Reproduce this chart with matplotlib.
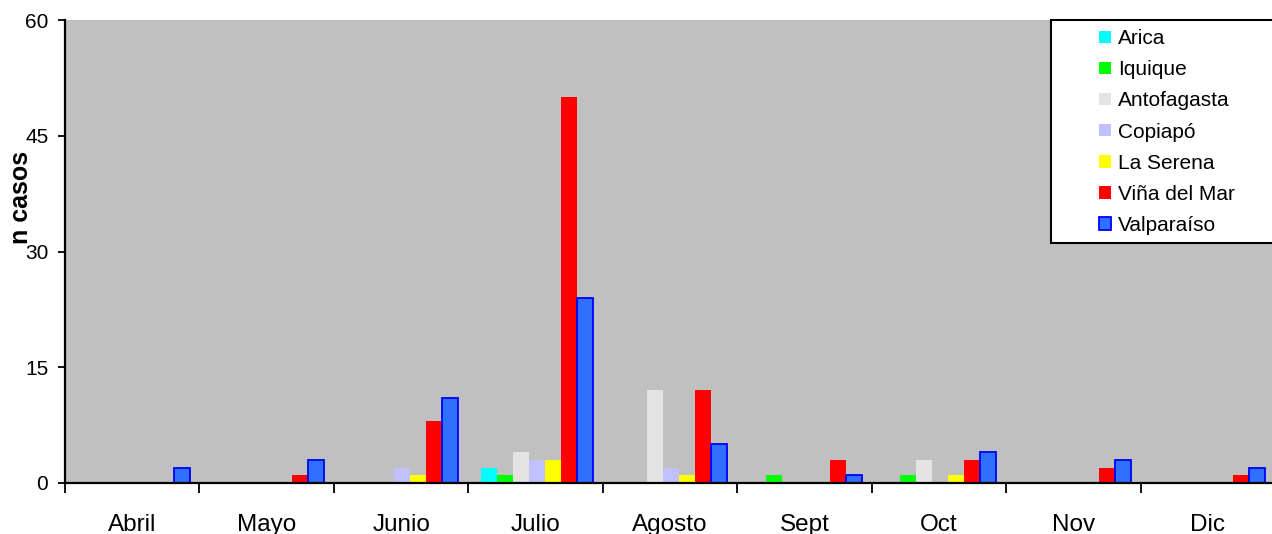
import matplotlib
matplotlib.use("Agg")
import matplotlib.pyplot as plt
import matplotlib.patches as patches
import numpy as np

plt.rcParams['font.family'] = ['Liberation Sans', 'DejaVu Sans']

# data
months = ["Abril", "Mayo", "Junio", "Julio", "Agosto", "Sept", "Oct", "Nov", "Dic"]
cities = ["Arica", "Iquique", "Antofagasta", "Copiapó", "La Serena", "Viña del Mar", "Valparaíso"]
arica       = [0, 0, 0, 2, 0, 0, 0, 0, 0]
iquique     = [0, 0, 0, 1, 0, 1, 1, 0, 0]
antofagasta = [0, 0, 0, 4, 12, 0, 3, 0, 0]
copiapo     = [0, 0, 2, 3, 2, 0, 0, 0, 0]
la_serena   = [0, 0, 1, 3, 1, 0, 1, 0, 0]
vina        = [0, 1, 8, 50, 12, 3, 3, 2, 1]
valparaiso  = [2, 3, 11, 24, 5, 1, 4, 3, 2]
yticks = [0, 15, 30, 45, 60]

series = [arica, iquique, antofagasta, copiapo, la_serena, vina, valparaiso]
faces = ['#00FFFF', '#00FF00', '#E3E3E3', '#C0C0FF', '#FFFF00', '#FF0000', '#3070FF']
edges = [None, None, None, None, None, None, '#0000FF']

fig = plt.figure(figsize=(12.72, 5.34), dpi=100)
# plot area runs slightly past the right edge of the picture, as in the original
ax = fig.add_axes([65 / 1272, 51 / 534, 1210 / 1272, 463 / 534])
ax.set_facecolor('#C0C0C0')

x = np.arange(len(months))
w = 0.119
for k, (vals, fc, ec) in enumerate(zip(series, faces, edges)):
    if ec:
        ax.bar(x + (k - 3) * w + 0.01, vals, w, color=fc, edgecolor=ec, linewidth=1.3, label=cities[k])
    else:
        ax.bar(x + (k - 3) * w + 0.01, vals, w, color=fc, linewidth=0, label=cities[k])

ax.set_xlim(-0.5, len(months) - 0.5)
ax.set_ylim(0, 60)
ax.set_yticks(yticks)
ax.tick_params(axis='y', length=5, width=1.3, pad=7, labelsize=15)

# ticks on category boundaries, labels in the middle
ax.set_xticks(np.arange(len(months)) - 0.5)
ax.set_xticklabels([])
ax.tick_params(axis='x', which='major', length=7, width=1.3)
ax.set_xticks(x, minor=True)
ax.set_xticklabels(months, minor=True)
ax.tick_params(axis='x', which='minor', length=0, pad=22.5, labelsize=17.5)

for s in ['top', 'right']:
    ax.spines[s].set_visible(False)
for s in ['left', 'bottom']:
    ax.spines[s].set_linewidth(1.6)

fig.text(21 / 1272, 1 - 197 / 534, "n casos", rotation=90, fontsize=18,
         fontweight='bold', ha='center', va='center')

# legend box
box = patches.Rectangle((1051 / 1272, 1 - 243 / 534), 230 / 1272, 223 / 534,
                        transform=fig.transFigure, facecolor='white',
                        edgecolor='black', linewidth=1.5, zorder=5)
fig.patches.append(box)
leg = fig.legend(loc='upper left', bbox_to_anchor=(1091 / 1272, 1 - 21 / 534),
                 frameon=False, fontsize=15, handlelength=0.55, handleheight=0.55,
                 handletextpad=0.35, labelspacing=0.58, borderaxespad=0)
leg.set_zorder(6)

fig.savefig("out.png", dpi=100)
